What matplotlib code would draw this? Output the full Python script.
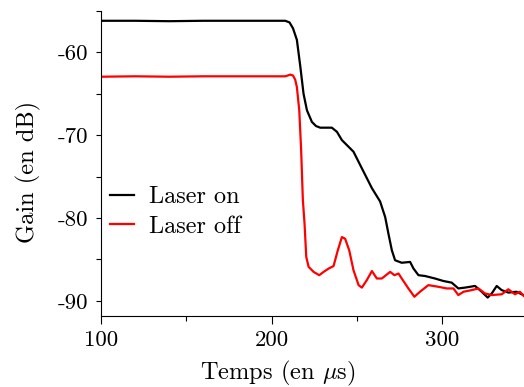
import matplotlib
matplotlib.use("Agg")
import matplotlib.pyplot as plt
from matplotlib.ticker import MultipleLocator

plt.rcParams['font.family'] = ['cmr10']
plt.rcParams['mathtext.fontset'] = 'cm'
plt.rcParams['axes.unicode_minus'] = False
plt.rcParams['axes.formatter.use_mathtext'] = False

# temps (us) / gain (dB)
t_on = [100, 120, 140, 160, 180, 200, 208, 210.5, 212.5, 214.8, 216.8, 218.7, 220.7,
        223.6, 226, 228.5, 235.3, 238.3, 241.2, 245.1, 248.0, 252.9, 258.8, 263.6,
        266.6, 268.5, 270.5, 272.4, 276.3, 281.2, 283.2, 286.1, 290.0, 295.8, 300.7,
        305.6, 309.5, 313.4, 319.3, 323.2, 326.7, 329.1, 332.0, 334.9, 338.8, 343.7,
        347.6]
g_on = [-56.2, -56.2, -56.25, -56.2, -56.2, -56.2, -56.2, -56.4, -57.1, -58.5, -61.7,
        -65.0, -67.0, -68.4, -68.9, -69.1, -69.1, -69.6, -70.6, -71.4, -72.0, -74.0,
        -76.4, -78.0, -79.9, -81.9, -83.9, -85.1, -85.4, -85.3, -86.1, -86.9, -87.0,
        -87.3, -87.6, -87.8, -88.5, -88.4, -88.2, -88.9, -89.6, -89.1, -88.2, -88.7,
        -89.0, -88.9, -89.3]

t_off = [100, 120, 140, 160, 180, 200, 208, 210.9, 212.5, 213.8, 214.8, 216.2, 217.3,
         218.3, 219.3, 220.3, 221.7, 224.6, 227.9, 230.5, 233.4, 236.3, 238.8, 241.2,
         243.1, 245.5, 248.0, 251.0, 252.9, 255.8, 258.8, 261.7, 264.6, 269.5, 272.0,
         274.4, 276.3, 280.2, 283.7, 287.0, 291.9, 297.8, 302.7, 306.6, 309.5, 312.5,
         317.3, 321.3, 325.1, 329.1, 335.0, 338.8, 342.7, 345.6, 347.8]
g_off = [-62.95, -62.9, -62.95, -62.9, -62.9, -62.9, -62.9, -62.7, -62.8, -63.3, -64.2,
         -67.0, -71.8, -77.8, -80.7, -84.7, -85.9, -86.5, -86.9, -86.5, -86.1, -85.8,
         -83.9, -82.3, -82.5, -83.9, -86.3, -88.1, -88.4, -87.5, -86.4, -87.3, -87.3,
         -86.5, -86.9, -86.7, -87.3, -88.5, -89.5, -88.9, -88.1, -88.3, -88.5, -88.5,
         -89.3, -88.9, -88.7, -88.5, -89.1, -89.3, -89.2, -88.6, -89.2, -88.9, -89.4]

fig = plt.figure(figsize=(5.24, 3.87), dpi=100)
ax = fig.add_axes([0.193, 0.184, 0.807, 0.788])

ax.plot(t_on, g_on, color='black', lw=1.6, label='Laser on')
ax.plot(t_off, g_off, color='red', lw=1.6, label='Laser off')

ax.set_xlim(100, 348)
ax.set_ylim(-91.8, -55)
ax.xaxis.set_major_locator(MultipleLocator(100))
ax.xaxis.set_minor_locator(MultipleLocator(50))
ax.yaxis.set_major_locator(MultipleLocator(10))
ax.yaxis.set_minor_locator(MultipleLocator(5))

for s in ['top', 'right']:
    ax.spines[s].set_visible(False)
for s in ['left', 'bottom']:
    ax.spines[s].set_linewidth(0.8)

ax.tick_params(axis='x', which='major', direction='out', length=5.5, width=0.8,
               labelsize=16.5, pad=5)
ax.tick_params(axis='x', which='minor', direction='out', length=3.6, width=0.8)
ax.tick_params(axis='y', which='both', direction='out', length=3.3, width=0.8,
               labelsize=16.5, pad=6)

ax.set_xlabel(r'Temps (en $\mu$s)', fontsize=17.6)
ax.set_ylabel('Gain (en dB)', fontsize=17.6)
ax.xaxis.set_label_coords(0.418, -0.14)
ax.yaxis.set_label_coords(-0.142, 0.472)

ax.legend(loc='center left', bbox_to_anchor=(-0.02, 0.34), frameon=False, fontsize=17.5,
          handlelength=1.0, handletextpad=0.6, labelspacing=0.3, borderpad=0.2)

fig.savefig('out.png', dpi=100)
